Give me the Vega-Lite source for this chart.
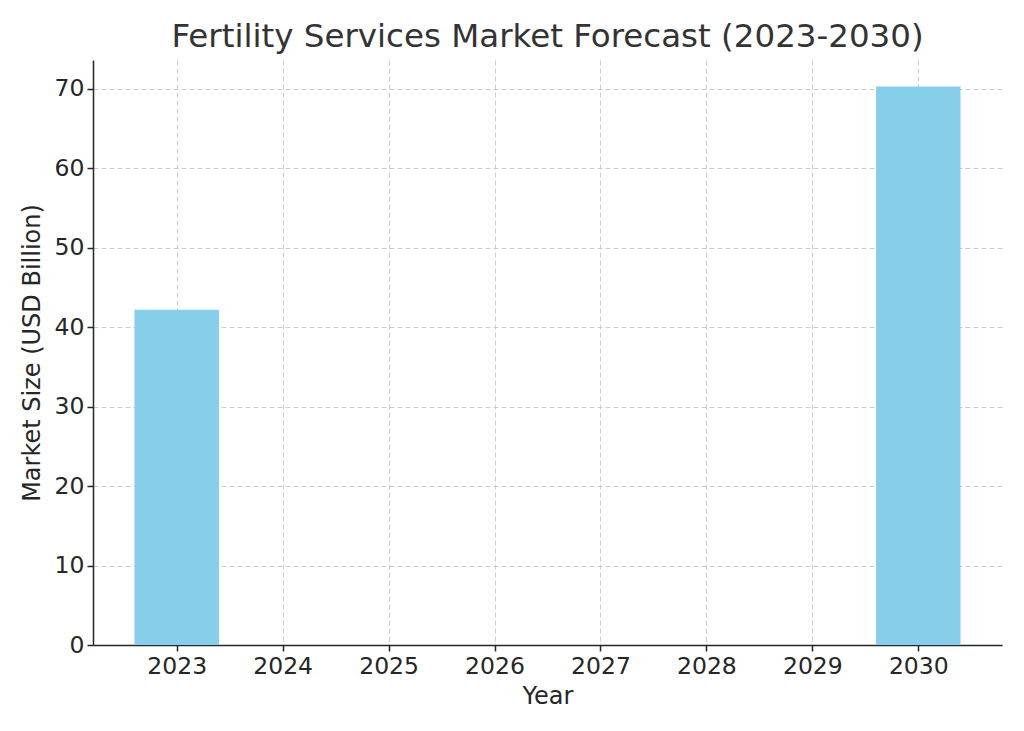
{
  "$schema": "https://vega.github.io/schema/vega-lite/v6.json",
  "width": 909,
  "height": 585,
  "autosize": "none",
  "padding": {"left": 93, "top": 60, "right": 22, "bottom": 86},
  "background": "white",
  "config": {
    "font": "DejaVu Sans",
    "view": {"stroke": null},
    "axis": {
      "labelFont": "DejaVu Sans",
      "titleFont": "DejaVu Sans",
      "labelFontSize": 23.5,
      "titleFontSize": 24,
      "titleFontWeight": "normal",
      "labelColor": "#262626",
      "titleColor": "#262626",
      "domainColor": "#262626",
      "domainWidth": 1.5,
      "tickColor": "#262626",
      "tickWidth": 1.5,
      "tickSize": 6,
      "labelPadding": 3,
      "gridColor": "#cccccc",
      "gridDash": [5, 3],
      "gridWidth": 1
    }
  },
  "title": {
    "text": "Fertility Services Market Forecast (2023-2030)",
    "font": "DejaVu Sans",
    "fontSize": 32.5,
    "fontWeight": "normal",
    "color": "#333333",
    "anchor": "middle",
    "offset": 7
  },
  "data": {
    "values": [
      {"Year": 2023, "Market Size": 42.2},
      {"Year": 2030, "Market Size": 70.3}
    ]
  },
  "mark": {"type": "bar", "color": "#87ceeb", "width": 84.5},
  "encoding": {
    "x": {
      "field": "Year",
      "type": "quantitative",
      "scale": {"domain": [2022.21, 2030.79], "nice": false, "zero": false, "padding": 0},
      "axis": {
        "values": [2023, 2024, 2025, 2026, 2027, 2028, 2029, 2030],
        "format": "d",
        "title": "Year",
        "titlePadding": 7
      }
    },
    "y": {
      "field": "Market Size",
      "type": "quantitative",
      "scale": {"domain": [0, 73.65], "nice": false, "padding": 0},
      "axis": {
        "values": [0, 10, 20, 30, 40, 50, 60, 70],
        "title": "Market Size (USD Billion)",
        "titlePadding": 10
      }
    }
  }
}
